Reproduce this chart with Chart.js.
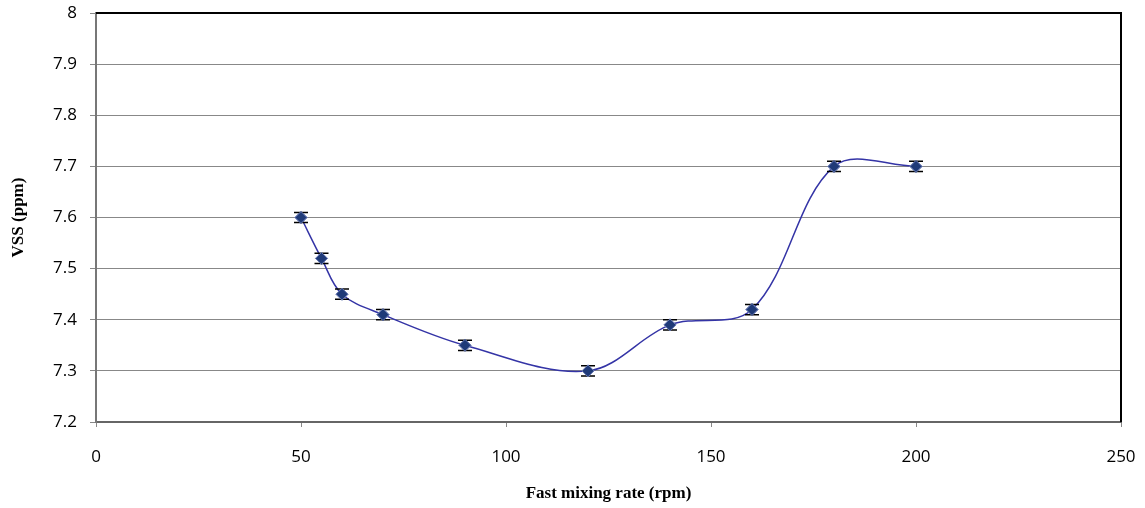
<!DOCTYPE html>
<html>
<head>
<meta charset="utf-8">
<script src="https://cdn.jsdelivr.net/npm/chart.js@4"></script>
<style>
  html, body { margin: 0; padding: 0; background: #fff; }
  #wrap { width: 1145px; height: 508px; }
</style>
</head>
<body>
<div id="wrap"><canvas id="chart"></canvas></div>
<script>
const rates = [50, 55, 60, 70, 90, 120, 140, 160, 180, 200];
const vss = [7.6, 7.52, 7.45, 7.41, 7.35, 7.3, 7.39, 7.42, 7.7, 7.7];
const errs = [0.01, 0.01, 0.01, 0.01, 0.01, 0.01, 0.01, 0.01, 0.01, 0.01];

// error bars, then markers again on top, then the black top/right frame
const errorBars = {
  id: "errorBars",
  afterDatasetsDraw(chart) {
    const ctx = chart.ctx;
    const x = chart.scales.x, y = chart.scales.y;
    ctx.save();
    ctx.strokeStyle = "#000";
    ctx.lineWidth = 1.5;
    rates.forEach((r, i) => {
      const px = x.getPixelForValue(r);
      const top = y.getPixelForValue(vss[i] + errs[i]);
      const bot = y.getPixelForValue(vss[i] - errs[i]);
      ctx.beginPath();
      ctx.moveTo(px, top); ctx.lineTo(px, bot);
      ctx.moveTo(px - 7, top); ctx.lineTo(px + 7, top);
      ctx.moveTo(px - 7, bot); ctx.lineTo(px + 7, bot);
      ctx.stroke();
    });
    const meta = chart.getDatasetMeta(0);
    meta.data.forEach(p => p.draw(ctx, chart.chartArea));
    const a = chart.chartArea;
    ctx.strokeStyle = "#000";
    ctx.lineWidth = 2;
    ctx.beginPath();
    ctx.moveTo(a.left, a.top); ctx.lineTo(a.right, a.top); ctx.lineTo(a.right, a.bottom);
    ctx.stroke();
    ctx.restore();
  }
};

new Chart(document.getElementById("chart"), {
  type: "scatter",
  data: {
    datasets: [{
      data: rates.map((r, i) => ({ x: r, y: vss[i] })),
      showLine: true,
      tension: 0.35,
      borderColor: "#3434A6",
      borderWidth: 1.5,
      pointStyle: "rectRot",
      pointRadius: 6,
      pointBackgroundColor: "#1F3A78",
      pointBorderColor: "#7080B8",
      pointBorderWidth: 1,
    }],
  },
  options: {
    responsive: true,
    maintainAspectRatio: false,
    animation: false,
    layout: { padding: { top: 13, right: 24, left: 4, bottom: 0 } },
    plugins: { legend: { display: false }, tooltip: { enabled: false } },
    scales: {
      x: {
        min: 0, max: 250,
        ticks: { stepSize: 50, color: "#000", font: { family: "Open Sans", size: 17 }, padding: 20 },
        grid: { drawOnChartArea: false, color: "#888", tickLength: 5 },
        border: { color: "#666", width: 2 },
        title: { display: true, text: "Fast mixing rate (rpm)", color: "#000",
                 font: { family: "Liberation Serif", size: 17, weight: "bold" }, padding: { top: 10 } },
        afterFit(s) { s.height = 86; s.paddingLeft = 0; s.paddingRight = 0; },
      },
      y: {
        min: 7.2, max: 8,
        ticks: { stepSize: 0.1, color: "#000", font: { family: "Open Sans", size: 17 }, padding: 13,
                 callback: v => +v.toFixed(1) },
        grid: { color: "#888", tickLength: 6 },
        border: { color: "#777", width: 2 },
        title: { display: true, text: "VSS (ppm)", color: "#000",
                 font: { family: "Liberation Serif", size: 17, weight: "bold" } },
        afterFit(s) { s.width = 92; s.paddingTop = 0; s.paddingBottom = 0; },
      },
    },
  },
  plugins: [errorBars],
});
</script>
</body>
</html>
